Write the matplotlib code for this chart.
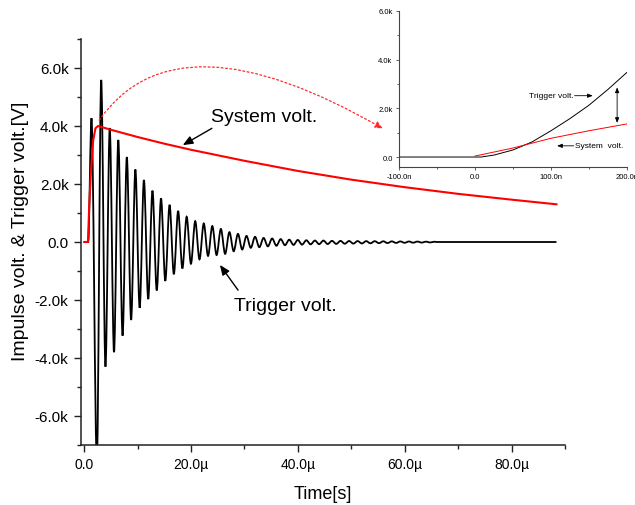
import numpy as np
import matplotlib
matplotlib.use("Agg")
from matplotlib import pyplot as plt
from matplotlib.path import Path
from matplotlib.patches import PathPatch
from matplotlib.ticker import FuncFormatter, MultipleLocator

plt.rcParams["font.family"] = ["Liberation Sans", "DejaVu Sans"]

# trigger voltage, main view (time in µs, volts)
trig_lead_t = [0.0, 0.75, 1.36, 2.37]
trig_lead_v = [0, 0, 4270, -7600]
trig_first_peak_t = 3.18
trig_half_period = 0.8
trig_peaks = [5590, 3930, 3520, 2930, 2500, 2140, 1770, 1500, 1280, 1070,
              870, 720, 640, 550, 450, 340, 280, 210, 180, 140,
              120, 100, 80, 70, 60, 50, 50, 40, 38, 35,
              32, 30, 28, 25, 22, 20, 18, 15, 12, 10]
trig_troughs = [-4300, -3800, -3230, -2690, -2270, -1970, -1670, -1340, -1110, -910,
                -750, -600, -480, -450, -410, -320, -260, -200, -180, -150,
                -130, -110, -100, -90, -80, -75, -70, -65, -60, -55,
                -50, -45, -40, -36, -32, -28, -24, -20, -16]
trig_end_t = 88.4

# system voltage, main view
sys_t = [0, 0.7, 0.95, 1.25, 1.68, 2.1, 2.6, 5, 10, 15, 20, 30, 40, 50, 60, 70, 80, 88.4]
sys_v = [0, 0, 1300, 2380, 3500, 3920, 4000, 3870, 3620, 3390, 3180, 2800, 2450,
         2150, 1890, 1660, 1460, 1300]

# inset: first 200 ns (time in ns)
ins_trig_t = [-100, 0, 8, 25, 50, 75, 100, 125, 150, 175, 200]
ins_trig_v = [0, 0, 0, 80, 290, 620, 1080, 1580, 2130, 2780, 3480]
ins_sys_t = [0, 50, 100, 150, 200]
ins_sys_v = [40, 370, 770, 1080, 1360]

# interleave peaks and troughs on the oscillation grid
n_ext = len(trig_peaks) + len(trig_troughs)
ext_v = np.empty(n_ext)
ext_v[0::2] = trig_peaks
ext_v[1::2] = trig_troughs
ext_t = trig_first_peak_t + trig_half_period * np.arange(n_ext)
trig_t = np.concatenate([trig_lead_t, ext_t, [ext_t[-1] + 0.4, trig_end_t]])
trig_v = np.concatenate([trig_lead_v, ext_v, [0, 0]])


def smooth_path(t, v):
    # cubic segments with flat tangents at every extremum (Origin-style smoothing)
    verts = [(t[0], v[0])]
    codes = [Path.MOVETO]
    for i in range(1, len(t)):
        dt = t[i] - t[i - 1]
        verts += [(t[i - 1] + dt / 3, v[i - 1]), (t[i] - dt / 3, v[i]), (t[i], v[i])]
        codes += [Path.CURVE4] * 3
    return Path(verts, codes)


spine_col = "#222222"

fig = plt.figure(figsize=(6.35, 5.06), dpi=100)
ax = fig.add_axes([81 / 635, 60 / 506, 484 / 635, 406 / 506])

ax.add_patch(PathPatch(smooth_path(trig_t, trig_v), fill=False, edgecolor="black",
                       lw=1.3, zorder=2))
ax.plot(sys_t, sys_v, color="#ff0000", lw=1.5, zorder=3)

ax.set_xlim(-0.6, 90)
ax.set_ylim(-7000, 7000)
ax.xaxis.set_major_locator(MultipleLocator(20))
ax.xaxis.set_minor_locator(MultipleLocator(10))
ax.yaxis.set_major_locator(MultipleLocator(2000))
ax.yaxis.set_minor_locator(MultipleLocator(1000))
ax.xaxis.set_major_formatter(FuncFormatter(lambda v, _: "0.0" if v == 0 else f"{v:.1f}\u00b5"))
ax.yaxis.set_major_formatter(FuncFormatter(lambda v, _: "0.0" if v == 0 else f"{v / 1000:.1f}k"))

for side in ["top", "right"]:
    ax.spines[side].set_visible(False)
for side in ["left", "bottom"]:
    ax.spines[side].set_linewidth(1.1)
    ax.spines[side].set_color(spine_col)
ax.tick_params(which="major", direction="out", length=5, width=1.0, color=spine_col, pad=4)
ax.tick_params(which="minor", direction="out", length=3, width=1.0, color=spine_col)
ax.tick_params(axis="x", labelsize=10)
ax.tick_params(axis="y", labelsize=11)

ax.set_xlabel("Time[s]", fontsize=13)
ax.xaxis.set_label_coords(0.5, -0.098)
ax.set_ylabel("Impulse volt. & Trigger volt.[V]", fontsize=14)
ax.yaxis.set_label_coords(-0.107, 0.528)

# callouts
ax.text(33.6, 4320, "System volt.", fontsize=14, ha="center", va="center")
ax.annotate("", xy=(18.45, 3340), xytext=(23.9, 3920),
            arrowprops=dict(arrowstyle="-|>,head_length=0.6,head_width=0.25",
                            color="black", lw=1.0, shrinkA=0, shrinkB=0))
ax.text(37.6, -2200, "Trigger volt.", fontsize=14, ha="center", va="center")
ax.annotate("", xy=(25.4, -790), xytext=(28.8, -1660),
            arrowprops=dict(arrowstyle="-|>,head_length=0.6,head_width=0.25",
                            color="black", lw=1.0, shrinkA=0, shrinkB=0))

# dotted arc pointing to the zoomed inset
ax.annotate("", xy=(55.9, 3910), xytext=(2.8, 4200), annotation_clip=False,
            arrowprops=dict(arrowstyle="-|>,head_length=0.45,head_width=0.2",
                            color="#ff2a2a", lw=0.9, linestyle=(0, (1.5, 2)),
                            connectionstyle="angle3,angleA=55,angleB=-30",
                            shrinkA=0, shrinkB=0))

# inset
axin = fig.add_axes([399 / 635, 338 / 506, 228 / 635, 156 / 506])
axin.patch.set_alpha(0)
axin.plot(ins_trig_t, ins_trig_v, color="black", lw=0.7)
axin.plot(ins_sys_t, ins_sys_v, color="#ff0000", lw=0.7)
axin.set_xlim(-100, 200)
axin.set_ylim(-410, 6000)
axin.xaxis.set_major_locator(MultipleLocator(100))
axin.xaxis.set_minor_locator(MultipleLocator(50))
axin.yaxis.set_major_locator(MultipleLocator(2000))
axin.yaxis.set_minor_locator(MultipleLocator(1000))
axin.xaxis.set_major_formatter(FuncFormatter(lambda v, _: "0.0" if v == 0 else f"{v:.1f}n"))
axin.yaxis.set_major_formatter(FuncFormatter(lambda v, _: "0.0" if v == 0 else f"{v / 1000:.1f}k"))
for side in ["top", "right"]:
    axin.spines[side].set_visible(False)
for side in ["left", "bottom"]:
    axin.spines[side].set_linewidth(0.8)
    axin.spines[side].set_color("#444444")
axin.tick_params(which="major", direction="out", length=2.5, width=0.6, color="#444444",
                 labelsize=5.5, pad=2)
axin.tick_params(which="minor", direction="out", length=1.5, width=0.6, color="#444444")

axin.text(130, 2520, "Trigger volt.", fontsize=6, ha="right", va="center")
axin.annotate("", xy=(155, 2520), xytext=(131, 2520),
              arrowprops=dict(arrowstyle="-|>,head_length=0.3,head_width=0.12",
                              color="black", lw=0.6, shrinkA=0, shrinkB=0))
axin.text(131, 460, "System  volt.", fontsize=6, ha="left", va="center")
axin.annotate("", xy=(108, 460), xytext=(130, 460),
              arrowprops=dict(arrowstyle="-|>,head_length=0.3,head_width=0.12",
                              color="black", lw=0.6, shrinkA=0, shrinkB=0))
axin.annotate("", xy=(187, 1400), xytext=(187, 2860),
              arrowprops=dict(arrowstyle="<|-|>,head_length=0.3,head_width=0.12",
                              color="black", lw=0.6, shrinkA=0, shrinkB=0))

fig.savefig("out.png", dpi=100)
